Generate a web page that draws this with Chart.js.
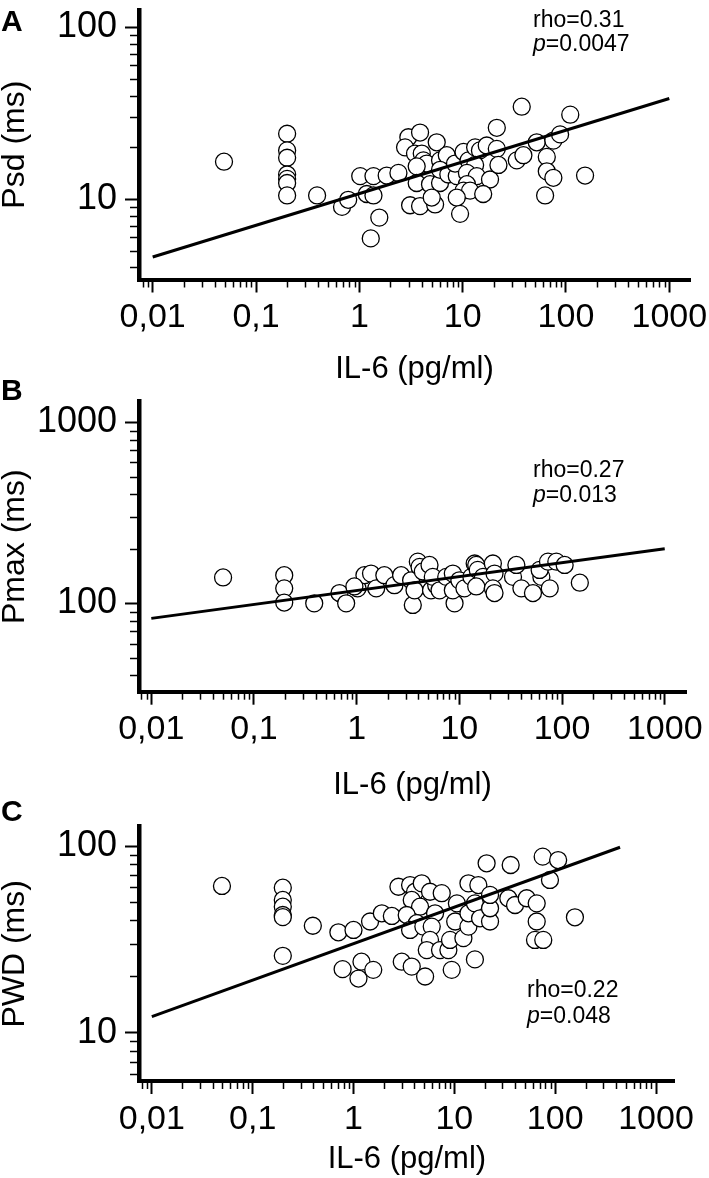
<!DOCTYPE html>
<html>
<head>
<meta charset="utf-8">
<script src="https://cdn.jsdelivr.net/npm/chart.js@4.4.1/dist/chart.umd.min.js"></script>
<style>
  body { margin: 0; background: #fff; width: 709px; height: 1178px; position: relative; overflow: hidden;
         font-family: 'Liberation Sans', Arial, sans-serif; color: #000; }
  .panel { position: absolute; left: 0; width: 709px; }
  .letter { position: absolute; left: 1px; font-weight: bold; font-size: 30px; line-height: 30px; }
  .stat { position: absolute; font-size: 23px; white-space: nowrap; }
</style>
</head>
<body>
<div class="panel" style="top:0;height:390px"><canvas id="chartA"></canvas></div>
<div class="panel" style="top:390px;height:416px"><canvas id="chartB"></canvas></div>
<div class="panel" style="top:806px;height:372px"><canvas id="chartC"></canvas></div>

<div class="letter" style="top:6px">A</div>
<div class="letter" style="top:375px">B</div>
<div class="letter" style="top:796px">C</div>

<div class="stat" style="left:533px;top:7px;line-height:24px">rho=0.31<br><i>p</i>=0.0047</div>
<div class="stat" style="left:533px;top:457px;line-height:25px">rho=0.27<br><i>p</i>=0.013</div>
<div class="stat" style="left:527px;top:976px;line-height:26px">rho=0.22<br><i>p</i>=0.048</div>

<script>
// ---- data --------------------------------------------------------------
var xTickValues = [0.01, 0.1, 1, 10, 100, 1000];
var xTickLabels = ['0,01', '0,1', '1', '10', '100', '1000'];

// A: Psd vs IL-6
var il6A = [0.049, 0.2, 0.2, 0.2, 0.2, 0.2, 0.2, 0.2, 0.39, 0.68, 0.78,
  1.18, 1.37, 1.02, 1.37, 1.84, 2.39, 1.56, 1.29, 2.98, 3.87, 2.77, 5.61, 3.46, 4.02, 4.17, 4.49,
  3.59, 3.59, 4.83, 6.04, 3.10, 3.87, 5.41, 5.02, 6.04, 7.02, 6.04, 7.27, 8.77, 8.44, 10.2, 11.4,
  13.2, 14.7, 17.1, 21.4, 13.2, 11.0, 13.7, 18.4, 11.0, 10.2, 11.8, 15.8, 8.77, 9.44, 21.4, 22.2,
  33.4, 38.7, 37.3, 52.1, 75.5, 87.7, 110, 65.2, 65.2, 75.5, 62.8, 153];
var psd = [16.5, 24, 19.2, 17.4, 13.9, 13.1, 12.4, 10.5, 10.5, 9.0, 9.9,
  10.7, 10.5, 13.6, 13.6, 13.7, 14.2, 7.8, 5.9, 22.9, 24.4, 20.0, 21.4, 18.4, 18.4, 16.8, 16.1,
  15.5, 12.4, 12.2, 12.4, 9.2, 9.1, 9.3, 10.2, 16.8, 18.0, 14.8, 13.9, 13.6, 16.1, 18.8, 16.8,
  20.0, 19.2, 20.5, 19.6, 15.8, 14.2, 13.6, 13.0, 12.2, 11.2, 11.2, 10.7, 10.2, 8.2, 26.0, 15.8,
  16.8, 18.0, 34.5, 21.4, 21.9, 23.8, 31.0, 17.6, 14.5, 13.3, 10.5, 13.7];
var fitAx = [0.01, 1000];
var fitAy = [4.6, 38.5];
var yTickA = [10, 100];

// B: Pmax vs IL-6
var il6B = [0.05, 0.197, 0.197, 0.197, 0.386, 0.68, 0.79, 1.02, 1.19, 1.38, 1.55, 1.86, 2.33, 2.71,
  3.39, 3.52, 3.94, 4.1, 4.41, 5.12, 3.66, 5.3, 5.95, 5.51, 6.41, 7.45, 8.64, 8.98, 8.64, 10.0,
  11.2, 13.1, 14.1, 14.6, 15.1, 17.0, 14.6, 21.2, 22.0, 21.2, 22.0, 33.3, 35.9, 40.2, 52.1, 62.9,
  60.5, 73, 75.9, 88, 106, 149, 0.95];
var pmax = [139, 143, 121, 101, 100, 114, 100, 121, 143, 146, 121, 143, 126, 143,
  134, 98, 170, 159, 150, 163, 118, 118, 126, 140, 118, 140, 146, 100, 118, 134,
  121, 140, 166, 163, 153, 140, 124, 166, 146, 121, 114, 140, 163, 121, 114, 140,
  153, 170, 121, 170, 163, 130, 124];
var fitBx = [0.01, 1000];
var fitBy = [82.6, 200];
var yTickB = [100, 1000];

// C: PWD vs IL-6
var il6C = [0.0496, 0.199, 0.199, 0.199, 0.199, 0.199, 0.199, 0.395, 0.708, 1.0, 0.78, 1.12, 1.2,
  1.57, 1.46, 1.91, 2.40, 2.79, 3.64, 4.08, 4.75, 3.78, 4.57, 5.74, 7.5, 3.37, 4.24, 3.64, 4.93,
  6.44, 5.97, 5.74, 5.33, 7.21, 8.73, 9.06, 10.2, 10.6, 12.3, 13.8, 13.8, 13.8, 17.3, 16.0, 18.0,
  22.6, 22.6, 22.6, 20.9, 36.2, 34.3, 40.0, 52.2, 65.6, 65.6, 63.1, 76.2, 88.8, 75.2, 107, 157,
  3.01, 3.78, 5.13, 9.42, 16.0];
var pwd = [61.1, 59.8, 51.4, 47.3, 42.7, 41.6, 25.8, 37.4, 34.5, 35.5, 21.9, 19.5, 24.0,
  21.7, 39.4, 43.6, 42.2, 60.5, 61.8, 56.9, 63.1, 51.4, 47.3, 56.9, 55.9, 42.7, 38.6, 35.5, 37.0,
  43.6, 37.0, 31.4, 27.7, 27.7, 27.7, 31.4, 39.4, 49.3, 32.1, 37.0, 43.6, 63.1, 61.8, 49.3, 41.0,
  39.4, 46.4, 54.7, 80.8, 79.1, 52.5, 48.3, 52.5, 49.3, 39.4, 31.4, 31.4, 65.8, 87.7, 84.1, 41.5,
  24.0, 22.6, 20.0, 21.7, 24.7];
var fitCx = [0.01, 440];
var fitCy = [12.2, 98.5];
var yTickC = [10, 100];

// ---- helpers -------------------------------------------------------------
var FONT = "'Liberation Sans', Arial, sans-serif";

function isDecade(v) {
  var l = Math.log10(v);
  return Math.abs(l - Math.round(l)) < 1e-9;
}

function pairs(xs, ys) {
  return xs.map(function (x, i) { return { x: x, y: ys[i] }; });
}

// 1..9 x 10^n ticks inside the range, plus the two ends (unlabelled)
function logTicks(scale) {
  var list = [{ value: scale.min }];
  var e0 = Math.floor(Math.log10(scale.min)), e1 = Math.ceil(Math.log10(scale.max));
  for (var e = e0; e <= e1; e++) {
    for (var m = 1; m < 10; m++) {
      var v = +(m * Math.pow(10, e)).toPrecision(6);
      if (v > scale.min && v < scale.max) list.push({ value: v });
    }
  }
  list.push({ value: scale.max });
  scale.ticks = list;
}

function labeller(vals, labels) {
  return function (v) {
    for (var i = 0; i < vals.length; i++) {
      if (Math.abs(vals[i] - v) / vals[i] < 1e-6) return labels[i];
    }
    return '';
  };
}

function majorColor(ctx) {
  var t = ctx.tick;
  return t && isDecade(t.value) ? '#000' : 'rgba(0,0,0,0)';
}

var minorTicks = {
  id: 'minorTicks',
  afterDraw: function (chart) {
    var c = chart.ctx;
    c.save();
    c.strokeStyle = '#000';
    c.lineWidth = 1.5;
    ['x', 'y'].forEach(function (id) {
      var s = chart.scales[id];
      s.ticks.forEach(function (t) {
        if (isDecade(t.value) || t.value <= s.min || t.value >= s.max) return;
        var p = Math.round(s.getPixelForValue(t.value)) + 0.5;
        c.beginPath();
        if (id === 'x') { c.moveTo(p, s.top + 2); c.lineTo(p, s.top + 8); }
        else { c.moveTo(s.right - 2, p); c.lineTo(s.right - 9, p); }
        c.stroke();
      });
    });
    c.restore();
  }
};

function makeChart(id, p) {
  new Chart(document.getElementById(id), {
    type: 'scatter',
    data: {
      datasets: [
        { type: 'line', data: pairs(p.fitX, p.fitY), borderColor: '#000', borderWidth: 3,
          pointRadius: 0, fill: false, order: 0 },
        { data: pairs(p.xs, p.ys), pointRadius: 8.5, borderWidth: 1.3, borderColor: '#000',
          backgroundColor: '#fff', order: 1 }
      ]
    },
    options: {
      responsive: true,
      maintainAspectRatio: false,
      animation: false,
      events: [],
      layout: { padding: { top: p.padTop, right: p.padRight, left: 0, bottom: 0 } },
      plugins: { legend: { display: false }, tooltip: { enabled: false } },
      scales: {
        x: {
          type: 'logarithmic', min: p.xMin, max: p.xMax,
          afterBuildTicks: logTicks,
          afterFit: function (s) { s.height = p.xHeight; s.paddingLeft = 0; s.paddingRight = 0; },
          border: { display: true, color: '#000', width: 4 },
          grid: { drawOnChartArea: false, tickLength: 13, tickWidth: 2, tickColor: majorColor },
          ticks: { autoSkip: false, maxRotation: 0, minRotation: 0, padding: 5, color: '#000',
                   font: { family: FONT, size: 34 }, callback: labeller(xTickValues, xTickLabels) },
          title: { display: true, text: 'IL-6 (pg/ml)', color: '#000',
                   font: { family: FONT, size: 31 }, padding: { top: 0, bottom: p.titlePad } }
        },
        y: {
          type: 'logarithmic', min: p.yMin, max: p.yMax,
          afterBuildTicks: logTicks,
          afterFit: function (s) { s.width = 139; s.paddingTop = 0; s.paddingBottom = 0; },
          border: { display: true, color: '#000', width: 4.5 },
          grid: { drawOnChartArea: false, tickLength: 14, tickWidth: 2, tickColor: majorColor },
          ticks: { autoSkip: false, padding: 8, color: '#000',
                   font: { family: FONT, size: 36 }, callback: labeller(p.yTicks, p.yTicks.map(String)) },
          title: { display: true, text: p.yTitle, color: '#000',
                   font: { family: FONT, size: 32 }, padding: { top: -4, bottom: 0 } }
        }
      }
    },
    plugins: [minorTicks]
  });
}

makeChart('chartA', {
  xs: il6A, ys: psd, fitX: fitAx, fitY: fitAy, yTicks: yTickA, yTitle: 'Psd (ms)',
  xMin: 0.00737, xMax: 1586, yMin: 3.4, yMax: 126.5,
  padTop: 2, padRight: 19, xHeight: 110.5, titlePad: 2.3
});
makeChart('chartB', {
  xs: il6B, ys: pmax, fitX: fitBx, fitY: fitBy, yTicks: yTickB, yTitle: 'Pmax (ms)',
  xMin: 0.00759, xMax: 1611, yMin: 32.5, yMax: 1300,
  padTop: 11.7, padRight: 23, xHeight: 114.3, titlePad: 2
});
makeChart('chartC', {
  xs: il6C, ys: pwd, fitX: fitCx, fitY: fitCy, yTicks: yTickC, yTitle: 'PWD (ms)',
  xMin: 0.00746, xMax: 1536, yMin: 5.51, yMax: 126.9,
  padTop: 20.7, padRight: 34.2, xHeight: 97, titlePad: 0
});
</script>
</body>
</html>
